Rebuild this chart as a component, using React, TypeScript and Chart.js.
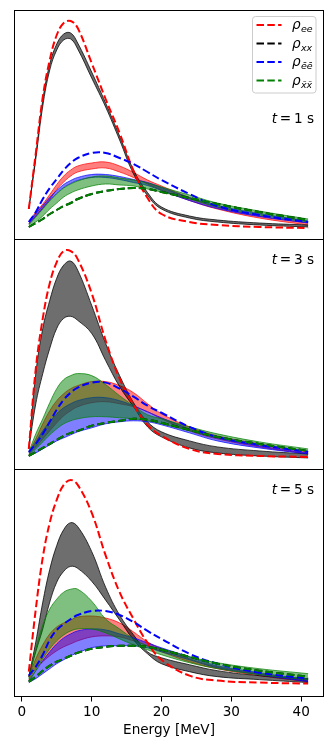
import React, { useEffect, useRef } from 'react';
import { Chart, registerables } from 'chart.js';

Chart.register(...registerables);

// ---------- data (arbitrary units) ----------
const energy = [1, 2, 3, 4, 5, 6, 7, 8, 10, 12, 14, 16, 18, 20, 24, 28, 34, 41];
const xTicks = [0, 10, 20, 30, 40];
const xTitle = 'Energy [MeV]';
const timeLabels = ['1', '3', '5'];
const legendSubs = ['ee', 'xx', 'e\u0304e\u0304', 'x\u0304x\u0304'];

// t = 1 s
const t1_ee_dashed = [30, 86, 142, 179, 204, 216, 218, 211, 176, 140, 106, 68, 41, 25, 17, 14, 12, 11];
const t1_ebar_dashed = [17, 27, 40, 51, 60, 69, 76, 81, 86, 86, 81, 75, 67, 59, 45, 33, 24, 17];
const t1_xbar_dashed = [12, 16, 20, 25, 29, 33, 36, 40, 45, 48, 50, 51, 50, 47, 41, 35, 27, 19];
const t1_xx_dashed = [12, 16, 20, 25, 29, 33, 36, 40, 45, 48, 50, 51, 50, 47, 41, 35, 27, 19];
const t1_xx_hi = [30, 84, 139, 175, 195, 205, 206, 196, 167, 136, 103, 69, 46.5, 32, 23, 19, 16, 14];
const t1_xx_lo = [30, 80, 133, 169, 189, 199, 200, 190, 161, 132, 99, 65, 43.5, 30, 21, 17, 14, 12];
const t1_ee_hi = [17, 27, 35, 44.5, 54.5, 63, 69, 73, 76, 77, 73, 66.5, 59, 53, 41.5, 32, 23, 16];
const t1_ee_lo = [15, 23, 31, 39.5, 49.5, 57, 63, 67, 70, 71, 67, 61.5, 55, 49, 38.5, 30, 21, 14];
const t1_ebar_hi = [17, 25.5, 33.5, 41.5, 48.5, 54.5, 58.5, 61.5, 64.5, 64.5, 62.5, 59.5, 56.5, 51.5, 41.5, 33.5, 25.5, 18];
const t1_ebar_lo = [15, 22.5, 30.5, 38.5, 45.5, 51.5, 55.5, 58.5, 61.5, 61.5, 59.5, 56.5, 53.5, 48.5, 38.5, 30.5, 22.5, 16];
const t1_xbar_hi = [14, 22, 30, 38, 45, 51, 55, 58, 62, 63, 61, 59, 56, 52, 44, 36, 28, 20];
const t1_xbar_lo = [12, 17, 23, 30, 36, 42, 46, 49, 53, 55, 54, 53, 50, 47, 40, 32, 24, 17];

// t = 3 s
const t3_ee_dashed = [20, 100, 150, 185, 206, 217, 217, 209, 175, 128, 90, 64, 44, 33, 20, 15, 13, 12];
const t3_ebar_dashed = [17, 25, 35, 47, 59, 69, 76, 81, 86, 86, 80, 72, 63, 56, 42, 32, 24, 17];
const t3_xbar_dashed = [13, 17, 21, 25, 29, 33, 36, 38, 43, 46, 48, 50, 49, 46, 39, 32, 25, 18];
const t3_xx_dashed = [13, 17, 21, 25, 29, 33, 36, 38, 43, 46, 48, 50, 49, 46, 39, 32, 25, 18];
const t3_xx_hi = [20, 95, 140, 168, 190, 203, 207, 198, 163, 125, 93, 66, 47, 37, 28, 22, 18, 15];
const t3_xx_lo = [20, 65, 95, 120, 140, 150, 152, 148, 135, 108, 82, 62, 42, 32, 21, 16, 13, 11];
const t3_ee_hi = [17, 30, 45, 58, 68, 75, 80, 83, 87, 87, 83, 76, 65, 55, 42, 33, 25, 17];
const t3_ee_lo = [15, 22, 30, 38, 46, 53, 58, 62, 66, 67, 65, 62, 57, 50, 38, 30, 22, 15];
const t3_ebar_hi = [16, 27, 38, 47, 55, 61, 65, 68, 71, 71, 68, 63, 57, 51, 40, 31, 23, 16];
const t3_ebar_lo = [13, 16, 20, 24, 28, 31, 34, 37, 41, 45, 47, 48, 47, 44, 36, 28, 21, 15];
const t3_xbar_hi = [17, 35, 50, 66, 80, 89, 93, 95, 93, 84, 73, 63, 54, 50, 42, 35, 27, 20];
const t3_xbar_lo = [14, 20, 27, 34, 40, 45, 48, 50, 52, 52, 51, 50, 48, 45, 38, 31, 24, 18];

// t = 5 s
const t5_ee_dashed = [25, 88, 140, 175, 198, 213, 218, 213, 185, 142, 105, 78, 54, 37, 21, 16, 14, 13];
const t5_ebar_dashed = [21, 30, 42, 57, 67, 73, 78, 82, 86, 86, 82, 75, 66, 58, 43, 33, 24, 18];
const t5_xbar_dashed = [15, 20, 26, 31, 35, 38, 41, 44, 48, 50, 51, 51, 50, 47, 40, 33, 26, 20];
const t5_xx_dashed = [15, 20, 26, 31, 35, 38, 41, 44, 48, 50, 51, 51, 50, 47, 40, 33, 26, 20];
const t5_xx_hi = [20, 55, 95, 128, 152, 168, 175, 171, 146, 110, 82, 62, 45, 39, 32, 26, 21, 18];
const t5_xx_lo = [20, 45, 68, 95, 115, 126, 131, 129, 116, 97, 77, 57, 43, 33, 25, 20, 17, 14];
const t5_ee_hi = [20, 38, 52, 63, 70, 74, 77, 80, 81, 79, 74, 65, 55, 48, 38, 30, 23, 17];
const t5_ee_lo = [17, 28, 35, 41, 46, 50, 53, 56, 60, 61, 60, 56, 51, 45, 35, 28, 21, 15];
const t5_ebar_hi = [16, 26, 36, 45, 53, 59, 63, 66, 68, 67, 63, 59, 54, 49, 40, 31, 24, 17];
const t5_ebar_lo = [14, 18, 23, 28, 33, 37, 41, 44, 49, 51, 51, 51, 49, 45, 37, 29, 22, 15];
const t5_xbar_hi = [18, 48, 72, 88, 98, 105, 108, 108, 96, 78, 68, 58, 51, 48, 40, 34, 28, 23];
const t5_xbar_lo = [15, 26, 38, 48, 56, 62, 66, 68, 68, 64, 58, 52, 47, 42, 34, 28, 22, 17];

// ---------- styling ----------
const FONT = 'DejaVu Sans';
const FS = 13.6;
const Y_MAX = 229;
const X_MIN = -1.05;
const X_MAX = 43.2;
const COL = { ee: '#ff0000', xx: '#000000', ebar: '#0000ff', xbar: '#008000' };
const FILL = {
  ee: 'rgba(255,0,0,0.5)',
  xx: 'rgba(0,0,0,0.57)',
  ebar: 'rgba(0,0,255,0.5)',
  xbar: 'rgba(0,128,0,0.5)',
};
const EDGE = {
  ee: 'rgba(255,0,0,0.7)',
  xx: 'rgba(0,0,0,0.75)',
  ebar: 'rgba(0,0,255,0.7)',
  xbar: 'rgba(0,128,0,0.7)',
};
const DASH = [7.5, 3.3];
const legendColors = [COL.ee, COL.xx, COL.ebar, COL.xbar];

type PanelData = {
  dashed: { ee: number[]; xx: number[]; ebar: number[]; xbar: number[] };
  bands: { ee: [number[], number[]]; xx: [number[], number[]]; ebar: [number[], number[]]; xbar: [number[], number[]] };
};

const panels: PanelData[] = [
  {
    dashed: { ee: t1_ee_dashed, xx: t1_xx_dashed, ebar: t1_ebar_dashed, xbar: t1_xbar_dashed },
    bands: { ee: [t1_ee_lo, t1_ee_hi], xx: [t1_xx_lo, t1_xx_hi], ebar: [t1_ebar_lo, t1_ebar_hi], xbar: [t1_xbar_lo, t1_xbar_hi] },
  },
  {
    dashed: { ee: t3_ee_dashed, xx: t3_xx_dashed, ebar: t3_ebar_dashed, xbar: t3_xbar_dashed },
    bands: { ee: [t3_ee_lo, t3_ee_hi], xx: [t3_xx_lo, t3_xx_hi], ebar: [t3_ebar_lo, t3_ebar_hi], xbar: [t3_xbar_lo, t3_xbar_hi] },
  },
  {
    dashed: { ee: t5_ee_dashed, xx: t5_xx_dashed, ebar: t5_ebar_dashed, xbar: t5_xbar_dashed },
    bands: { ee: [t5_ee_lo, t5_ee_hi], xx: [t5_xx_lo, t5_xx_hi], ebar: [t5_ebar_lo, t5_ebar_hi], xbar: [t5_xbar_lo, t5_xbar_hi] },
  },
];

const pts = (ys: number[]) => energy.map((e, i) => ({ x: e, y: ys[i] }));

function buildDatasets(p: PanelData) {
  const ds: any[] = [];
  (['xbar', 'ebar', 'xx', 'ee'] as const).forEach((k) => {
    ds.push({
      data: pts(p.dashed[k]),
      borderColor: COL[k],
      borderWidth: 2,
      borderDash: DASH,
      fill: false,
      pointRadius: 0,
    });
  });
  (['xbar', 'ebar', 'xx', 'ee'] as const).forEach((k) => {
    const [lo, hi] = p.bands[k];
    ds.push({
      data: pts(lo),
      borderColor: EDGE[k],
      borderWidth: 1,
      fill: false,
      pointRadius: 0,
    });
    ds.push({
      data: pts(hi),
      borderColor: EDGE[k],
      borderWidth: 1,
      backgroundColor: FILL[k],
      fill: '-1',
      pointRadius: 0,
    });
  });
  return ds;
}

function decorPlugin(idx: number) {
  return {
    id: 'decor' + idx,
    afterDraw(chart: any) {
      const { ctx, chartArea: a } = chart;
      ctx.save();
      ctx.strokeStyle = '#000';
      ctx.lineWidth = 1;
      ctx.setLineDash([]);
      const l = Math.floor(a.left) + 0.5;
      const t = Math.floor(a.top) + 0.5;
      const r = Math.floor(a.right) + 0.5;
      const b = Math.floor(a.bottom) + 0.5;
      ctx.strokeRect(l, t, r - l, b - t);

      const labelCenterY = a.top + (idx === 0 ? 108 : 20);
      const baseY = labelCenterY + 5;
      const rightX = a.right - 9.5;
      ctx.fillStyle = '#000';
      ctx.textBaseline = 'alphabetic';
      ctx.font = `${FS}px "${FONT}"`;
      const rest = '\u2009=\u2009' + timeLabels[idx] + ' s';
      const wRest = ctx.measureText(rest).width;
      ctx.font = `italic ${FS}px "${FONT}"`;
      const wT = ctx.measureText('t').width;
      const startX = rightX - wRest - wT;
      ctx.fillText('t', startX, baseY);
      ctx.font = `${FS}px "${FONT}"`;
      ctx.fillText(rest, startX + wT, baseY);

      if (idx === 0) {
        const bx = a.right - 71;
        const by = a.top + 6.5;
        const bw = 63.5;
        const bh = 76.5;
        const rad = 3;
        ctx.beginPath();
        ctx.moveTo(bx + rad, by);
        ctx.lineTo(bx + bw - rad, by);
        ctx.arcTo(bx + bw, by, bx + bw, by + rad, rad);
        ctx.lineTo(bx + bw, by + bh - rad);
        ctx.arcTo(bx + bw, by + bh, bx + bw - rad, by + bh, rad);
        ctx.lineTo(bx + rad, by + bh);
        ctx.arcTo(bx, by + bh, bx, by + bh - rad, rad);
        ctx.lineTo(bx, by + rad);
        ctx.arcTo(bx, by, bx + rad, by, rad);
        ctx.closePath();
        ctx.fillStyle = 'rgba(255,255,255,0.8)';
        ctx.fill();
        ctx.strokeStyle = '#cccccc';
        ctx.lineWidth = 1;
        ctx.stroke();

        legendSubs.forEach((sub, i) => {
          const y = by + 8.5 + i * 18.5;
          ctx.beginPath();
          ctx.setLineDash(DASH);
          ctx.strokeStyle = legendColors[i];
          ctx.lineWidth = 2;
          ctx.moveTo(bx + 4, y);
          ctx.lineTo(bx + 29, y);
          ctx.stroke();
          ctx.setLineDash([]);
          ctx.fillStyle = '#000';
          ctx.font = `italic ${FS}px "${FONT}"`;
          const tx = bx + 39.5;
          ctx.fillText('\u03c1', tx, y + 4);
          const wr = ctx.measureText('\u03c1').width;
          ctx.font = `italic 9.5px "${FONT}"`;
          ctx.fillText(sub, tx + wr + 0.3, y + 7);
        });
      }
      ctx.restore();
    },
  };
}

function makeChart(canvas: HTMLCanvasElement, idx: number, pad: any, showX: boolean) {
  return new Chart(canvas, {
    type: 'line',
    data: { datasets: buildDatasets(panels[idx]) },
    options: {
      responsive: false,
      animation: false,
      events: [],
      layout: { padding: pad },
      elements: {
        point: { radius: 0 },
        line: { tension: 0.4 },
      },
      plugins: {
        legend: { display: false },
        tooltip: { enabled: false },
        title: { display: false },
      },
      scales: {
        x: {
          type: 'linear',
          min: X_MIN,
          max: X_MAX,
          display: showX,
          position: 'bottom',
          afterBuildTicks: (s: any) => {
            s.ticks = xTicks.map((v) => ({ value: v }));
          },
          afterFit: (s: any) => {
            s.height = showX ? 52.5 : 0;
          },
          grid: {
            drawOnChartArea: false,
            drawTicks: true,
            tickLength: 5,
            color: '#000',
            lineWidth: 1,
          },
          border: { display: false },
          ticks: {
            color: '#000',
            font: { family: FONT, size: FS },
            padding: 3,
            maxRotation: 0,
            autoSkip: false,
          },
          title: {
            display: true,
            text: xTitle,
            color: '#000',
            font: { family: FONT, size: FS },
            padding: { top: 0, bottom: 10 },
          },
        },
        y: { min: 0, max: Y_MAX, display: false },
      },
    },
    plugins: [decorPlugin(idx)],
  } as any);
}

export default function App() {
  const r1 = useRef<HTMLCanvasElement>(null);
  const r2 = useRef<HTMLCanvasElement>(null);
  const r3 = useRef<HTMLCanvasElement>(null);

  useEffect(() => {
    Chart.defaults.font.family = FONT;
    const c1 = makeChart(r1.current!, 0, { left: 14.5, right: 8.5, top: 10, bottom: 1 }, false);
    const c2 = makeChart(r2.current!, 1, { left: 14.5, right: 8.5, top: 0, bottom: 1 }, false);
    const c3 = makeChart(r3.current!, 2, { left: 14.5, right: 8.5, top: 9, bottom: 0 }, true);
    return () => {
      c1.destroy();
      c2.destroy();
      c3.destroy();
    };
  }, []);

  return (
    <div style={{ position: 'absolute', left: 0, top: 0, width: 332, height: 749, background: '#fff' }}>
      <canvas ref={r1} width={332} height={240} style={{ position: 'absolute', left: 0, top: 0 }} />
      <canvas ref={r2} width={332} height={231} style={{ position: 'absolute', left: 0, top: 239 }} />
      <canvas ref={r3} width={332} height={289} style={{ position: 'absolute', left: 0, top: 460 }} />
    </div>
  );
}
